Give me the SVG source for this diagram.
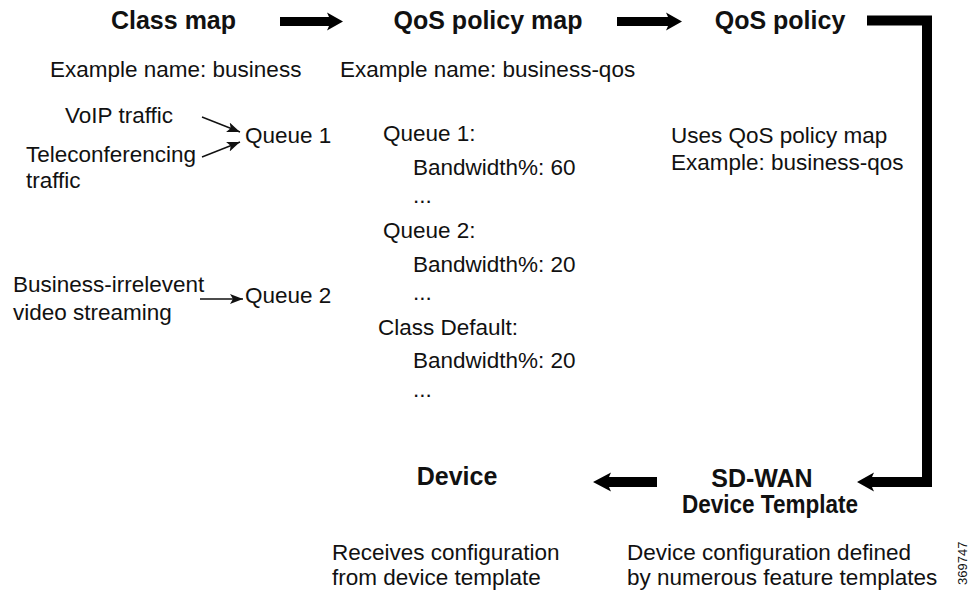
<svg xmlns="http://www.w3.org/2000/svg" width="969" height="592" viewBox="0 0 969 592">
<style>
text{font-family:"Liberation Sans",Arial,Helvetica,sans-serif;fill:#111}
.t{font-size:25px;font-weight:bold}
.r{font-size:22.5px}
.m{text-anchor:middle}
.thin{stroke:#111;stroke-width:1.4;fill:none}
.thick{fill:#000}
</style>
<defs>
<marker id="ah" viewBox="0 0 13 10" refX="13" refY="5" markerWidth="13" markerHeight="10" markerUnits="userSpaceOnUse" orient="auto">
<path d="M0,0 L13,5 L0,10 L3,5 z" fill="#111"/>
</marker>
</defs>
<rect width="969" height="592" fill="#fff"/>

<g id="classmap">
<text class="t m" x="173.5" y="28.5">Class map</text>
<text class="r" x="50" y="77">Example name: business</text>
<text class="r" x="65" y="123">VoIP traffic</text>
<text class="r" x="26" y="162">Teleconferencing</text>
<text class="r" x="26" y="188">traffic</text>
<text class="r" x="245" y="143">Queue 1</text>
<text class="r" x="13" y="292">Business-irrelevent</text>
<text class="r" x="13" y="320">video streaming</text>
<text class="r" x="245" y="303">Queue 2</text>
</g>

<g id="qospolicymap">
<text class="t m" x="488" y="28.5">QoS policy map</text>
<text class="r" x="340" y="77">Example name: business-qos</text>
<text class="r" x="383" y="141">Queue 1:</text>
<text class="r" x="413" y="175">Bandwidth%: 60</text>
<text class="r" x="413" y="203">...</text>
<text class="r" x="383" y="238">Queue 2:</text>
<text class="r" x="413" y="272">Bandwidth%: 20</text>
<text class="r" x="413" y="300">...</text>
<text class="r" x="378" y="335">Class Default:</text>
<text class="r" x="413" y="368">Bandwidth%: 20</text>
<text class="r" x="413" y="397">...</text>
</g>

<g id="qospolicy">
<text class="t m" x="780" y="28.5">QoS policy</text>
<text class="r" x="671" y="143">Uses QoS policy map</text>
<text class="r" x="671" y="170">Example: business-qos</text>
</g>

<g id="sdwan">
<text class="t m" x="762" y="487">SD-WAN</text>
<text class="t" x="682" y="513" textLength="176" lengthAdjust="spacingAndGlyphs">Device Template</text>
<text class="r" x="627" y="560">Device configuration defined</text>
<text class="r" x="627" y="585">by numerous feature templates</text>
</g>

<g id="device">
<text class="t m" x="457" y="485">Device</text>
<text class="r" x="332" y="560">Receives configuration</text>
<text class="r" x="332" y="585">from device template</text>
</g>

<g id="connectors">
<line class="thin" x1="202" y1="117" x2="240" y2="132" marker-end="url(#ah)"/>
<line class="thin" x1="202" y1="157" x2="240" y2="142" marker-end="url(#ah)"/>
<line class="thin" x1="200" y1="299" x2="243" y2="299" marker-end="url(#ah)"/>
<polygon class="thick" points="280,17 329,17 327,12.5 343,21.5 327,30.5 329,26 280,26"/>
<polygon class="thick" points="617,17 668,17 666,12.5 682,21.5 666,30.5 668,26 617,26"/>
<polyline points="867,20.5 927,20.5 927,482 870,482" fill="none" stroke="#000" stroke-width="10"/>
<polygon class="thick" points="872,477 874,472.5 857,482 874,491.5 872,487"/>
<polygon class="thick" points="657,477 609,477 611,472.5 593,482 611,491.5 609,487 657,487"/>
</g>

<g id="figid">
<text x="967" y="585" transform="rotate(-90 967 585)" style="font-size:13px">369747</text>
</g>
</svg>
